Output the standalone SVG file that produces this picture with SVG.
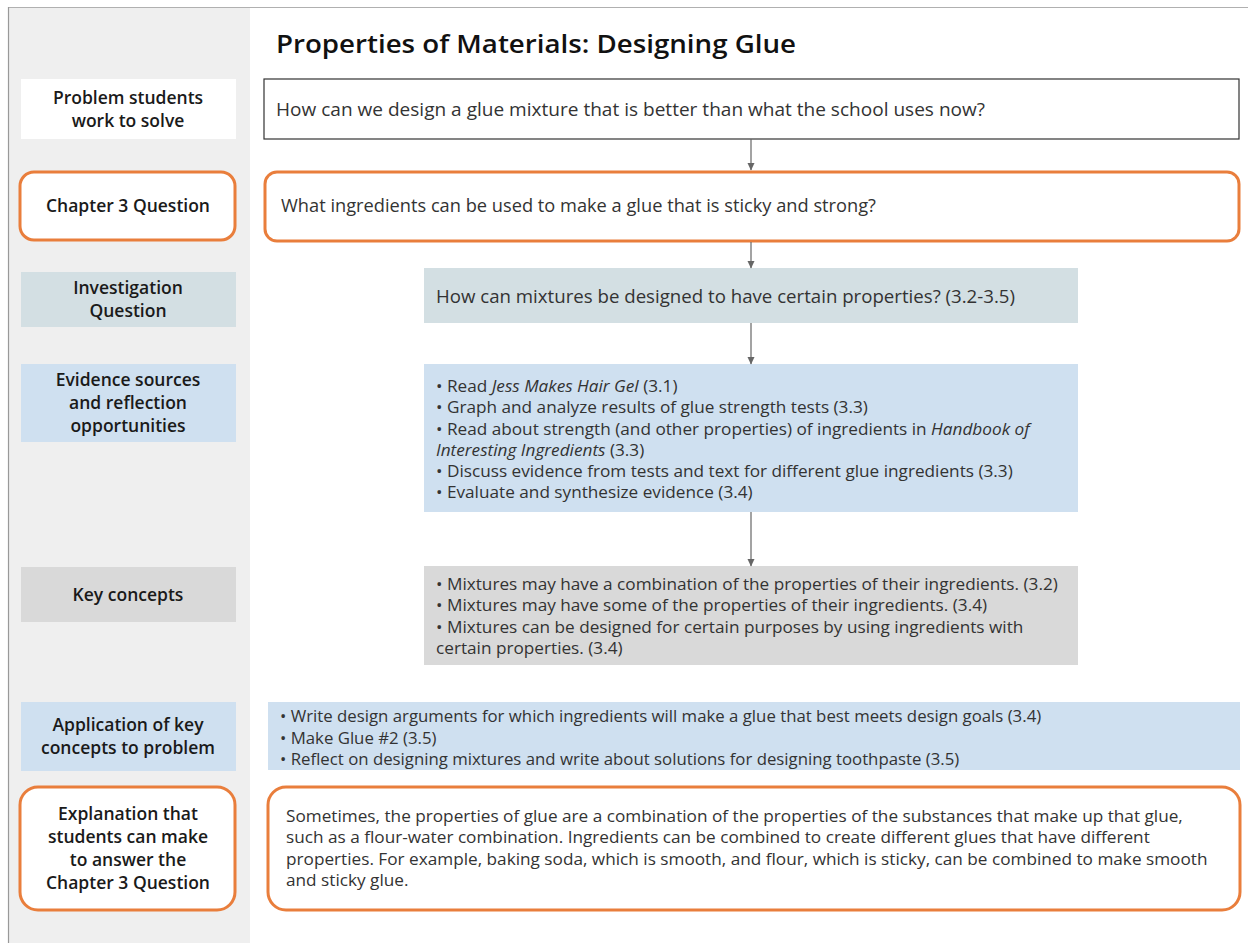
<svg xmlns="http://www.w3.org/2000/svg" width="1248" height="943" viewBox="0 0 1248 943">
  <style>
    .lbl { font-family: "Open Sans", "Liberation Sans", sans-serif; font-weight: 600; font-size: 17.5px; fill: #1a1a1a; text-anchor: middle; }
    .txt { font-family: "Open Sans", "Liberation Sans", sans-serif; font-size: 17.2px; fill: #333; }
    .big { font-size: 18px; }
    .app { font-size: 16.8px; }
    .ttl { font-family: "Open Sans", "Liberation Sans", sans-serif; font-weight: 600; font-size: 26px; fill: #111; }
    .it { font-style: italic; }
    .orange { fill: #fff; stroke: #E97E3C; stroke-width: 3; }
    .plain { fill: #fff; }
    .boxed { fill: #fff; stroke: #333; stroke-width: 1.2; }
    .inv { fill: #D3DFE3; }
    .evi { fill: #CFE0F0; }
    .key { fill: #D9D9D9; }
    .conn { stroke: #666; stroke-width: 1.2; fill: none; }
  </style>
  <defs>
    <marker id="arrow" markerWidth="8" markerHeight="8" refX="7" refY="4" orient="auto" markerUnits="userSpaceOnUse">
      <path d="M0,0.5 L7.5,4 L0,7.5 Z" fill="#666"/>
    </marker>
  </defs>

  <!-- page background and side panel -->
  <rect x="0" y="0" width="1248" height="943" fill="#fff"/>
  <rect x="8" y="8" width="242" height="935" fill="#EFEFEF"/>
  <line x1="8" y1="7.5" x2="1248" y2="7.5" stroke="#B0B0B0" stroke-width="1.2"/>
  <line x1="8.5" y1="7" x2="8.5" y2="943" stroke="#999" stroke-width="1.2"/>

  <text class="ttl" x="276" y="53" textLength="520" lengthAdjust="spacingAndGlyphs">Properties of Materials: Designing Glue</text>

  <!-- row labels -->
  <g id="label-problem">
    <rect class="plain" x="21" y="79" width="215" height="60"/>
    <text class="lbl" x="128" y="104">Problem students</text>
    <text class="lbl" x="128" y="127">work to solve</text>
  </g>
  <g id="label-chapter">
    <rect class="orange" x="20" y="172" width="215" height="68" rx="14"/>
    <text class="lbl" x="128" y="212">Chapter 3 Question</text>
  </g>
  <g id="label-investigation">
    <rect class="inv" x="21" y="272" width="215" height="55"/>
    <text class="lbl" x="128" y="294">Investigation</text>
    <text class="lbl" x="128" y="317">Question</text>
  </g>
  <g id="label-evidence">
    <rect class="evi" x="21" y="364" width="215" height="78"/>
    <text class="lbl" x="128" y="386">Evidence sources</text>
    <text class="lbl" x="128" y="409">and reflection</text>
    <text class="lbl" x="128" y="432">opportunities</text>
  </g>
  <g id="label-key">
    <rect class="key" x="21" y="567" width="215" height="55"/>
    <text class="lbl" x="128" y="601">Key concepts</text>
  </g>
  <g id="label-application">
    <rect class="evi" x="21" y="702" width="215" height="69"/>
    <text class="lbl" x="128" y="731">Application of key</text>
    <text class="lbl" x="128" y="754">concepts to problem</text>
  </g>
  <g id="label-explanation">
    <rect class="orange" x="20" y="787" width="215" height="123" rx="18"/>
    <text class="lbl" x="128" y="820">Explanation that</text>
    <text class="lbl" x="128" y="843">students can make</text>
    <text class="lbl" x="128" y="866">to answer the</text>
    <text class="lbl" x="128" y="889">Chapter 3 Question</text>
  </g>

  <!-- content nodes -->
  <g id="node-problem">
    <rect class="boxed" x="264" y="79" width="975" height="60"/>
    <text class="txt big" x="276" y="116" textLength="709" lengthAdjust="spacingAndGlyphs">How can we design a glue mixture that is better than what the school uses now?</text>
  </g>
  <g id="node-chapter">
    <rect class="orange" x="265" y="172" width="974" height="69" rx="12"/>
    <text class="txt big" x="281" y="212" textLength="595" lengthAdjust="spacingAndGlyphs">What ingredients can be used to make a glue that is sticky and strong?</text>
  </g>
  <g id="node-investigation">
    <rect class="inv" x="424" y="268" width="654" height="55"/>
    <text class="txt big" x="436" y="303" textLength="579" lengthAdjust="spacingAndGlyphs">How can mixtures be designed to have certain properties? (3.2-3.5)</text>
  </g>
  <g id="node-evidence">
    <rect class="evi" x="424" y="364" width="654" height="148"/>
    <text class="txt" x="436" y="392">• Read <tspan class="it">Jess Makes Hair Gel</tspan> (3.1)</text>
    <text class="txt" x="436" y="413">• Graph and analyze results of glue strength tests (3.3)</text>
    <text class="txt" x="436" y="435">• Read about strength (and other properties) of ingredients in <tspan class="it">Handbook of</tspan></text>
    <text class="txt" x="436" y="456"><tspan class="it">Interesting Ingredients</tspan> (3.3)</text>
    <text class="txt" x="436" y="477">• Discuss evidence from tests and text for different glue ingredients (3.3)</text>
    <text class="txt" x="436" y="498">• Evaluate and synthesize evidence (3.4)</text>
  </g>
  <g id="node-key">
    <rect class="key" x="424" y="566" width="654" height="99"/>
    <text class="txt" x="436" y="590">• Mixtures may have a combination of the properties of their ingredients. (3.2)</text>
    <text class="txt" x="436" y="611">• Mixtures may have some of the properties of their ingredients. (3.4)</text>
    <text class="txt" x="436" y="633">• Mixtures can be designed for certain purposes by using ingredients with</text>
    <text class="txt" x="436" y="654">certain properties. (3.4)</text>
  </g>
  <g id="node-application">
    <rect class="evi" x="268" y="702" width="972" height="68"/>
    <text class="txt app" x="280" y="722">• Write design arguments for which ingredients will make a glue that best meets design goals (3.4)</text>
    <text class="txt app" x="280" y="743.5">• Make Glue #2 (3.5)</text>
    <text class="txt app" x="280" y="765">• Reflect on designing mixtures and write about solutions for designing toothpaste (3.5)</text>
  </g>
  <g id="node-explanation">
    <rect class="orange" x="268" y="787" width="972" height="123" rx="18"/>
    <text class="txt" x="286" y="822">Sometimes, the properties of glue are a combination of the properties of the substances that make up that glue,</text>
    <text class="txt" x="286" y="843">such as a flour-water combination. Ingredients can be combined to create different glues that have different</text>
    <text class="txt" x="286" y="865">properties. For example, baking soda, which is smooth, and flour, which is sticky, can be combined to make smooth</text>
    <text class="txt" x="286" y="886">and sticky glue.</text>
  </g>

  <!-- connectors -->
  <g id="connectors">
    <line class="conn" x1="751" y1="139" x2="751" y2="170" marker-end="url(#arrow)"/>
    <line class="conn" x1="751" y1="242" x2="751" y2="268" marker-end="url(#arrow)"/>
    <line class="conn" x1="751" y1="323" x2="751" y2="364" marker-end="url(#arrow)"/>
    <line class="conn" x1="751" y1="512" x2="751" y2="566" marker-end="url(#arrow)"/>
  </g>
</svg>
